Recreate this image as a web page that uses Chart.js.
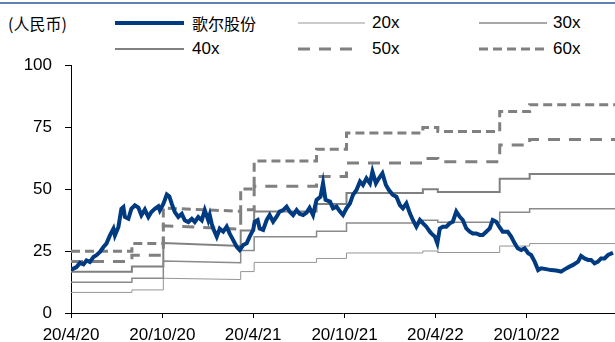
<!DOCTYPE html>
<html>
<head>
<meta charset="utf-8">
<script src="https://cdn.jsdelivr.net/npm/chart.js@4.4.0/dist/chart.umd.min.js"></script>
<style>
  html, body { margin: 0; padding: 0; background: #fff; }
  #wrap { position: relative; width: 615px; height: 342px; overflow: hidden; font-family: "Liberation Sans", Arial, sans-serif; color: #000; }
  #topline { position: absolute; left: 0; top: 2px; width: 615px; height: 2px; background: #5f82b3; }
  #unit { position: absolute; left: 8px; top: 12px; font-size: 16px; font-family: "Noto Sans CJK SC", sans-serif; line-height: 22px; }
  .sample { position: absolute; }
  .txt { position: absolute; font-size: 17px; line-height: 22px; white-space: nowrap; }
  .cjk { font-family: "Noto Sans CJK SC", sans-serif; font-size: 16px; }
  #chart { position: absolute; left: 0; top: 0; }
</style>
</head>
<body>
<div id="wrap">
  <div id="topline"></div>
  <div id="unit">(人民币)</div>
  <div id="legend"></div>
  <canvas id="chart" width="615" height="342"></canvas>
</div>
<script>
// x positions are days counted from 2020-04-20
const tickDays = [0, 183, 365, 548, 730, 913]
const tickLabels = ['20/4/20', '20/10/20', '20/4/21', '20/10/21', '20/4/22', '20/10/22']
const yTicks = [0, 25, 50, 75, 100]

// 歌尔股份 share price
const priceDays = [1, 11, 18, 25, 31, 38, 45, 51, 58, 65, 71, 78, 85, 88, 95, 101, 105, 108, 115, 121,
  128, 135, 141, 148, 155, 161, 168, 175, 178, 185, 192, 197, 202, 208, 215, 222, 228, 235, 242, 248,
  255, 262, 268, 275, 278, 282, 285, 292, 298, 305, 312, 318, 325, 332, 338, 345, 352, 358, 365, 368,
  374, 378, 385, 392, 398, 405, 412, 418, 425, 432, 438, 445, 452, 458, 465, 472, 478, 485, 492, 500,
  505, 510, 519, 525, 532, 539, 545, 552, 559, 565, 572, 579, 585, 592, 599, 604, 611, 617, 624, 631,
  637, 645, 652, 659, 665, 672, 679, 685, 692, 699, 705, 712, 719, 722, 729, 734, 739, 745, 752, 759,
  765, 772, 779, 785, 792, 799, 805, 812, 819, 825, 832, 839, 845, 852, 859, 865, 875, 882, 889, 895,
  902, 909, 916, 922, 929, 936, 942, 952, 962, 972, 982, 989, 999, 1006, 1016, 1022, 1029, 1036, 1042, 1049,
  1056, 1062, 1069, 1076, 1086]
const priceValues = [17.5, 18.5, 20.2, 19.6, 21.2, 20.6, 22.6, 23.3, 24.6, 26.6, 28, 31.3, 34, 31.3, 34.7, 42, 42.7, 38.7, 38, 42,
  43.4, 42.5, 39.4, 41.7, 38.7, 40.7, 42, 43, 41.4, 44, 47.8, 47, 44, 40.7, 38.7, 40, 37.4, 36.7, 38, 36.7,
  38.7, 37.4, 41.5, 37.4, 39.5, 36, 34, 30.8, 34, 32.8, 34.8, 32, 29.4, 26.7, 25.4, 27.4, 28.1, 30.8, 33.5, 36.8,
  37.5, 34.1, 33.5, 37.5, 39.5, 36.8, 38.8, 40.9, 41.5, 42.9, 40.9, 39.5, 41.5, 40, 39.5, 40.5, 42.4, 39.5, 45.6, 46.9,
  52.3, 45.6, 44.9, 42.2, 42.9, 40.9, 39.5, 42.2, 44.2, 47.6, 49.6, 53, 51.6, 54.3, 52.3, 57, 52.3, 54.3, 56.3, 51.6,
  49.6, 47.6, 46.9, 43.5, 42.2, 44.2, 40.2, 37.5, 34.8, 37.5, 36.2, 34.8, 32.8, 32.1, 30.8, 28.1, 34.1, 34.8, 34.8, 36.2,
  36.8, 40.9, 38.8, 37.5, 34.1, 32.8, 32.1, 32.1, 31.5, 31.5, 32.8, 34.1, 37.5, 36.8, 34.5, 32.8, 32.8, 30.8, 28.1, 26.1,
  25.4, 26.1, 24.1, 23.4, 20.7, 17.3, 18, 17.7, 17.3, 17.1, 16.7, 17.6, 18.7, 19.4, 20.7, 23, 22, 21.4, 21.4, 20,
  20.7, 22, 22, 23.4, 24.3]

// PE band lines, two entries at each step day
const bandDays = [0, 122, 122, 185, 185, 340, 340, 367, 367, 492, 492, 552, 552, 705, 705, 735, 735, 859, 859, 919, 919, 1090]
const pe20 = [8.3, 8.3, 9.3, 9.3, 14.0, 13.5, 16.7, 16.7, 20.4, 20.4, 22.0, 22.0, 24.2, 24.2, 25.0, 25.0, 24.4, 24.4, 27.0, 27.0, 28.0, 28.0]
const pe30 = [12.4, 12.4, 14.0, 14.0, 21.0, 20.3, 25.2, 25.2, 30.7, 30.7, 33.0, 33.0, 36.3, 36.3, 37.4, 37.4, 36.6, 36.6, 40.6, 40.6, 42.0, 42.0]
const pe40 = [16.6, 16.6, 18.7, 18.7, 28.2, 27.0, 33.3, 33.3, 40.9, 40.9, 44.0, 44.0, 48.4, 48.4, 49.9, 49.9, 48.8, 48.8, 54.1, 54.1, 56.0, 56.0]
const pe50 = [20.8, 20.8, 23.3, 23.3, 35.2, 33.8, 41.6, 41.6, 51.1, 51.1, 55.0, 55.0, 60.5, 60.5, 62.3, 62.3, 61.0, 61.0, 67.7, 67.7, 70.0, 70.0]
const pe60 = [24.9, 24.9, 28.0, 28.0, 42.3, 41.0, 50.0, 50.0, 61.3, 61.3, 66.0, 66.0, 72.6, 72.6, 74.8, 74.8, 73.2, 73.2, 81.2, 81.2, 84.0, 84.0]

const seriesNames = ['歌尔股份', '20x', '30x', '40x', '50x', '60x']

const navy = '#003a80'
const grey = '#808080'

function pts(xs, ys) {
  return xs.map((x, i) => ({ x: x, y: ys[i] }))
}

const styles = [
  { color: navy, width: 4, dash: [] },
  { color: '#959595', width: 1, dash: [] },
  { color: '#8a8a8a', width: 1.5, dash: [] },
  { color: grey, width: 2, dash: [] },
  { color: grey, width: 3, dash: [12, 9] },
  { color: grey, width: 3, dash: [9, 5] },
]

// html legend, 3 columns x 2 rows
const legendPos = [
  { lx: 115, lw: 69, tx: 192, y: 23 },
  { lx: 298, lw: 67, tx: 372, y: 23 },
  { lx: 479, lw: 68, tx: 553, y: 23 },
  { lx: 115, lw: 69, tx: 192, y: 49 },
  { lx: 298, lw: 60, tx: 372, y: 49 },
  { lx: 479, lw: 68, tx: 553, y: 49 },
]
const legend = document.getElementById('legend')
seriesNames.forEach((name, i) => {
  const p = legendPos[i], s = styles[i]
  const svg = `<svg class="sample" style="left:${p.lx}px;top:${p.y - 5}px" width="${p.lw}" height="10">
    <line x1="0" y1="5" x2="${p.lw}" y2="5" stroke="${s.color}" stroke-width="${s.width}" stroke-dasharray="${s.dash.join(' ')}"/></svg>`
  const txt = `<div class="txt${i === 0 ? ' cjk' : ''}" style="left:${p.tx}px;top:${p.y - 11}px">${name}</div>`
  legend.insertAdjacentHTML('beforeend', svg + txt)
})

const seriesData = [
  pts(priceDays, priceValues),
  pts(bandDays, pe20),
  pts(bandDays, pe30),
  pts(bandDays, pe40),
  pts(bandDays, pe50),
  pts(bandDays, pe60),
]

const tickFont = { family: '"Liberation Sans", Arial, sans-serif', size: 17 }

new Chart(document.getElementById('chart'), {
  type: 'line',
  data: {
    datasets: seriesNames.map((name, i) => ({
      label: name,
      data: seriesData[i],
      borderColor: styles[i].color,
      borderWidth: styles[i].width,
      borderDash: styles[i].dash,
      pointRadius: 0,
      tension: 0,
      fill: false,
      order: i,
    }))
  },
  options: {
    responsive: false,
    animation: false,
    devicePixelRatio: 1,
    layout: { padding: { top: 65, right: 0, left: 0, bottom: 0 } },
    plugins: { legend: { display: false }, tooltip: { enabled: false } },
    scales: {
      x: {
        type: 'linear',
        min: 0,
        max: 1090,
        afterBuildTicks: s => { s.ticks = tickDays.map(v => ({ value: v })) },
        afterFit: s => { s.height = 29 },
        grid: { drawOnChartArea: false, drawTicks: true, tickLength: 5, color: '#000' },
        border: { color: '#000', width: 1 },
        ticks: {
          color: '#000', font: tickFont, padding: 7, maxRotation: 0, autoSkip: false,
          callback: v => tickLabels[tickDays.indexOf(v)]
        }
      },
      y: {
        min: 0,
        max: 100,
        afterBuildTicks: s => { s.ticks = yTicks.map(v => ({ value: v })) },
        afterFit: s => { s.width = 71 },
        grid: { drawOnChartArea: false, drawTicks: true, tickLength: 6, color: '#000' },
        border: { color: '#000', width: 1 },
        ticks: { color: '#000', font: tickFont, padding: 13 }
      }
    }
  }
})
</script>
</body>
</html>
